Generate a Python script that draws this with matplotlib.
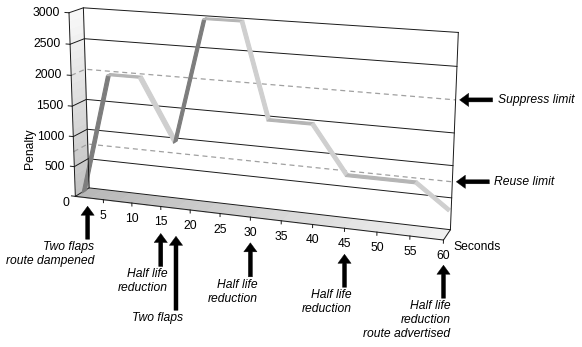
import numpy as np
import matplotlib
matplotlib.use("Agg")
import matplotlib.pyplot as plt
from matplotlib.transforms import offset_copy
from mpl_toolkits.mplot3d.art3d import Poly3DCollection

plt.rcParams['font.family'] = ['Liberation Sans', 'DejaVu Sans']

# Penalty curve
seconds = [0, 5, 10.5, 16.3, 21.4, 27.5, 31.8, 38.8, 44.3, 54.9, 60]
penalty = [0, 2000, 2000, 1000, 3000, 3000, 1500, 1500, 750, 750, 375]

# Axes
x_ticks = list(range(5, 65, 5))
y_ticks = list(range(0, 3500, 500))

# Limits shown as dashed lines
suppress_limit = 2000
reuse_limit = 750

# Events marked with arrows under the time axis
event_seconds = [2.2, 15, 17.6, 30, 45, 60]
event_labels = ["Two flaps\nroute dampened", "Half life\nreduction", "Two flaps",
                "Half life\nreduction", "Half life\nreduction",
                "Half life\nreduction\nroute advertised"]

# Layout (pixels): arrow tip below the axis edge and arrow length
tip_drop = [8.4, 27, 28, 25.7, 26, 25.2]
arrow_len = [33, 33, 74, 34, 33, 33]

FIG_W, FIG_H = 582, 347
PT = 0.72  # points per pixel at 100 dpi
FONT = 8.7

fig = plt.figure(figsize=(FIG_W / 100, FIG_H / 100), dpi=100)

# 3D box placed so it looks like the old Excel 3-D line chart
L, T, S = 35.68, -89.57, 428.86
ax = fig.add_axes([L / FIG_W, (FIG_H - T - S) / FIG_H, S / FIG_W, S / FIG_H],
                  projection='3d')
ax.set_xlim(0, x_ticks[-1])
ax.set_ylim(0, 1)
ax.set_zlim(0, y_ticks[-1])
ax.view_init(elev=14.476, azim=-69.994, roll=-0.072)
ax.set_proj_type('persp', focal_length=0.5705)
ax.set_box_aspect((1, 0.0806, 0.4978))
ax.set_axis_off()
ax.computed_zorder = False

t_max = x_ticks[-1]
z_max = y_ticks[-1]


def shaded_band(quad, g, zorder=1):
    ax.add_collection3d(Poly3DCollection([quad], facecolor=(g, g, g), edgecolor=(g, g, g),
                                         linewidth=0.4, zorder=zorder))


# Side wall and floor with a grey gradient
n = 24
zb = np.linspace(0, z_max, n + 1)
tb = np.linspace(0, t_max, n + 1)
for i in range(n):
    shaded_band([(0, 0, zb[i]), (0, 1, zb[i]), (0, 1, zb[i + 1]), (0, 0, zb[i + 1])],
                0.76 + 0.21 * i / (n - 1))
    shaded_band([(tb[i], 0, 0), (tb[i + 1], 0, 0), (tb[i + 1], 1, 0), (tb[i], 1, 0)],
                0.72 + 0.22 * i / (n - 1))

# Gridlines across the side wall and back wall
for z in y_ticks:
    if z != suppress_limit:
        ax.plot([0, 0, t_max], [0, 1, 1], [z, z, z], color='#1a1a1a', lw=0.7, zorder=2)
for z in (suppress_limit, reuse_limit):
    ax.plot([0, 0, t_max], [0, 1, 1], [z, z, z], color='#a0a0a0', lw=0.9,
            ls=(0, (4, 3)), zorder=2)

# Box edges and ticks
for xs, ys, zs in [([0, 0], [0, 0], [0, z_max]), ([0, 0], [1, 1], [0, z_max]),
                   ([t_max, t_max], [1, 1], [0, z_max]), ([0, t_max], [0, 0], [0, 0]),
                   ([t_max, t_max], [0, 1], [0, 0])]:
    ax.plot(xs, ys, zs, color='#1a1a1a', lw=0.7, zorder=4)
for t in x_ticks:
    ax.plot([t, t], [0, 0], [0, -50], color='#1a1a1a', lw=0.7, zorder=4)
for z in y_ticks:
    ax.plot([0, -0.7], [0, 0], [z, z], color='#1a1a1a', lw=0.7, zorder=4)

# Penalty ribbon: rising parts dark, flat and falling parts light
d0, d1 = 0.45, 0.75
for i in range(len(seconds) - 1):
    t0, t1 = seconds[i], seconds[i + 1]
    p0, p1 = penalty[i], penalty[i + 1]
    col = '#7d7d7d' if p1 > p0 else ('#b5b5b5' if p1 == p0 else '#cfcfcf')
    quad = [[(t0, d0, p0), (t1, d0, p1), (t1, d1, p1), (t0, d1, p0)]]
    ax.add_collection3d(Poly3DCollection(quad, facecolor=col, edgecolor=col,
                                         linewidth=0.8, zorder=3))


# Project a 3D point to the 2D data space of the axes
def scr(x3, y3, z3):
    v = ax.get_proj() @ np.array([x3, y3, z3, 1.0])
    return v[0] / v[3], v[1] / v[3]


def label(s, xyz, dx, dy, **kw):
    ax.annotate(s, xy=scr(*xyz), xytext=(dx * PT, -dy * PT), textcoords='offset points',
                annotation_clip=False, fontsize=FONT, **kw)


for t in x_ticks:
    label(str(t), (t, 0, 0), 0, 16, ha='center', va='center')
for z in y_ticks:
    label(str(z), (0, 0, z), -9 if z else -6, 6.5 if z == 0 else 0, ha='right', va='center')
label('Penalty', (0, 0, 800), -44, 0, rotation=90, ha='center', va='center')
label('Seconds', (t_max, 0, 0), 10, 7, ha='left', va='center')

# Arrows with italic notes
arrow = dict(arrowstyle='simple,head_length=0.65,head_width=0.95,tail_width=0.29',
             fc='black', ec='black', lw=0.3, shrinkA=0, shrinkB=0, mutation_scale=10)
for t, s, drop, ln in zip(event_seconds, event_labels, tip_drop, arrow_len):
    tip = offset_copy(ax.transData, fig=fig, x=0, y=-drop * PT, units='points')
    xy = scr(t, 0, 0)
    ax.annotate('', xy=xy, xycoords=tip, xytext=(0, -ln * PT), textcoords='offset points',
                arrowprops=arrow, annotation_clip=False)
    ax.annotate(s, xy=xy, xycoords=tip, xytext=(7 * PT, -(ln + 2) * PT),
                textcoords='offset points', ha='right', va='top', style='italic',
                fontsize=FONT, annotation_clip=False)

for z, s in ((suppress_limit, 'Suppress limit'), (reuse_limit, 'Reuse limit')):
    tip = offset_copy(ax.transData, fig=fig, x=4 * PT, y=0, units='points')
    xy = scr(t_max, 1, z)
    ax.annotate('', xy=xy, xycoords=tip, xytext=(33 * PT, 0), textcoords='offset points',
                arrowprops=arrow, annotation_clip=False)
    ax.annotate(s, xy=xy, xycoords=tip, xytext=(38 * PT, 0), textcoords='offset points',
                ha='left', va='center', style='italic', fontsize=FONT, annotation_clip=False)

fig.savefig('out.png', dpi=100)
